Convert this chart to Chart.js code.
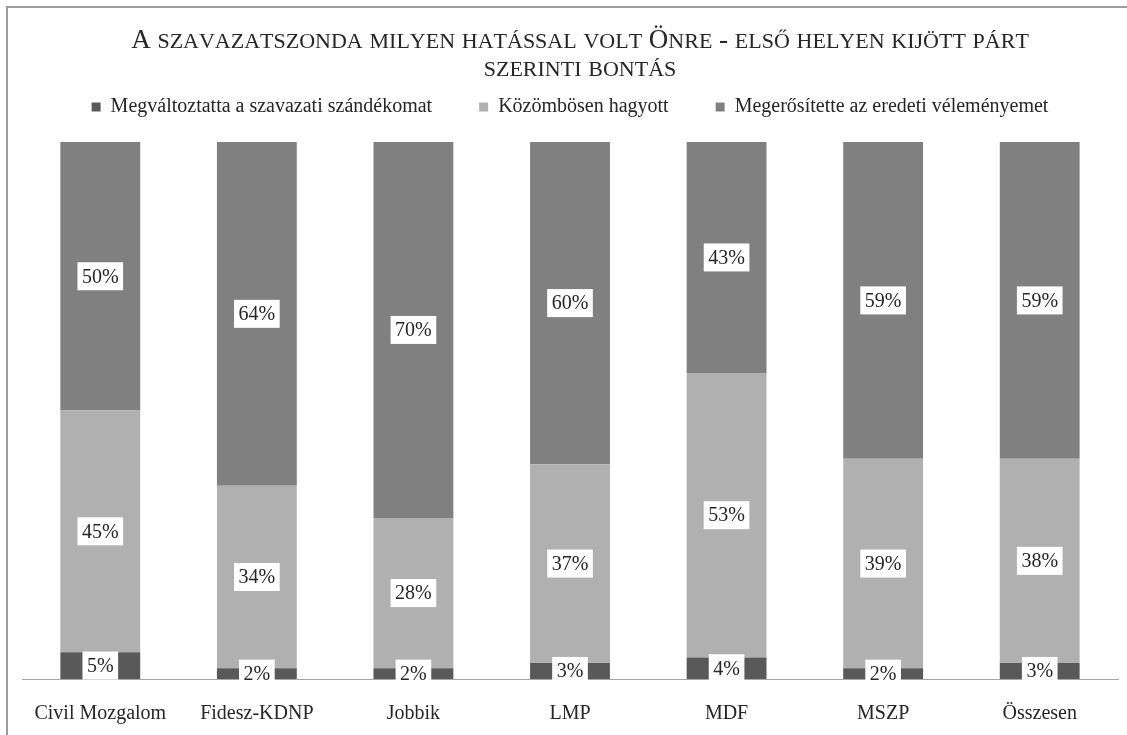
<!DOCTYPE html>
<html>
<head>
<meta charset="utf-8">
<script src="https://cdn.jsdelivr.net/npm/chart.js@4"></script>
<style>
    html, body { margin: 0; padding: 0; background: #fff; overflow: hidden; }
    .frame { position: absolute; left: 6px; top: 6px; width: 1200px; height: 800px; border-left: 2px solid #9c9c9c; border-top: 2px solid #9c9c9c; }
    canvas { position: absolute; left: 0; top: 0; }
</style>
</head>
<body>
<div class="frame"></div>
<canvas id="myChart" width="1127" height="735"></canvas>
<script>
const categories = ['Civil Mozgalom', 'Fidesz-KDNP', 'Jobbik', 'LMP', 'MDF', 'MSZP', 'Összesen'];
const seriesNames = ['Megváltoztatta a szavazati szándékomat', 'Közömbösen hagyott', 'Megerősítette az eredeti véleményemet'];
const changedValues = [5, 2, 2, 3, 4, 2, 3];
const indifferentValues = [45, 34, 28, 37, 53, 39, 38];
const confirmedValues = [50, 64, 70, 60, 43, 59, 59];
const titleLines = ['A szavazatszonda milyen hatással volt Önre - első helyen kijött párt', 'szerinti bontás'];

const serif = "'Liberation Serif', 'Times New Roman', serif";
const colors = ['#595959', '#b0b0b0', '#808080'];

// title drawn as small caps
function drawSmallCaps(ctx, text, cx, y, size) {
    const bigFont = size + 'px ' + serif;
    const smallFont = Math.round(size * 0.8) + 'px ' + serif;
    const parts = [];
    let total = 0;
    for (const ch of text) {
        const lower = ch !== ch.toUpperCase();
        const f = lower ? smallFont : bigFont;
        ctx.font = f;
        const w = ctx.measureText(ch.toUpperCase()).width;
        parts.push({ t: ch.toUpperCase(), f: f, w: w });
        total += w;
    }
    let x = cx - total / 2;
    parts.forEach(p => {
        ctx.font = p.f;
        ctx.fillText(p.t, x, y);
        x += p.w;
    });
}

const titlePlugin = {
    id: 'smallCapsTitle',
    beforeInit(chart) {
        // extra room under the legend
        const originalFit = chart.legend.fit;
        chart.legend.fit = function fit() {
            originalFit.bind(chart.legend)();
            this.height += 15;
        };
    },
    afterDraw(chart) {
        const ctx = chart.ctx;
        ctx.save();
        ctx.fillStyle = '#262626';
        ctx.textBaseline = 'alphabetic';
        ctx.textAlign = 'left';
        titleLines.forEach((line, i) => {
            drawSmallCaps(ctx, line, 580, 48 + i * 28, 27);
        });
        ctx.restore();
    }
};

// white boxed value labels in the middle of every segment
const labelPlugin = {
    id: 'boxLabels',
    afterDraw(chart) {
        const ctx = chart.ctx;
        ctx.save();
        ctx.font = '20px ' + serif;
        ctx.textAlign = 'center';
        ctx.textBaseline = 'middle';
        chart.data.datasets.forEach((ds, di) => {
            chart.getDatasetMeta(di).data.forEach((bar, i) => {
                const text = ds.data[i] + '%';
                const cy = (bar.y + bar.base) / 2;
                const w = ctx.measureText(text).width + 9;
                const h = 28;
                ctx.fillStyle = '#ffffff';
                ctx.fillRect(bar.x - w / 2, cy - h / 2, w, h);
                ctx.fillStyle = '#262626';
                ctx.fillText(text, bar.x, cy + 1);
            });
        });
        ctx.restore();
    }
};

const ctx = document.getElementById('myChart').getContext('2d');
const chart = new Chart(ctx, {
    type: 'bar',
    data: {
        labels: categories,
        datasets: [
            { label: seriesNames[0], data: changedValues, backgroundColor: colors[0] },
            { label: seriesNames[1], data: indifferentValues, backgroundColor: colors[1] },
            { label: seriesNames[2], data: confirmedValues, backgroundColor: colors[2] },
        ],
    },
    options: {
        responsive: false,
        animation: false,
        layout: { padding: { left: 22, right: 9, top: 50, bottom: 0 } },
        datasets: { bar: { categoryPercentage: 0.51, barPercentage: 1 } },
        scales: {
            x: {
                stacked: true,
                grid: { display: false, drawTicks: false },
                border: { color: '#a6a6a6', width: 1 },
                ticks: { color: '#262626', font: { family: serif, size: 20 }, padding: 23 },
                afterFit(scale) { scale.height = 56; },
            },
            y: {
                stacked: true,
                display: false,
                min: 0,
                max: 100,
            },
        },
        plugins: {
            legend: {
                position: 'top',
                labels: {
                    color: '#262626',
                    font: { family: serif, size: 20 },
                    boxWidth: 9,
                    boxHeight: 9,
                    padding: 47,
                },
            },
            title: { display: false },
            tooltip: { enabled: false },
        },
    },
    plugins: [titlePlugin, labelPlugin],
});
</script>
</body>
</html>
